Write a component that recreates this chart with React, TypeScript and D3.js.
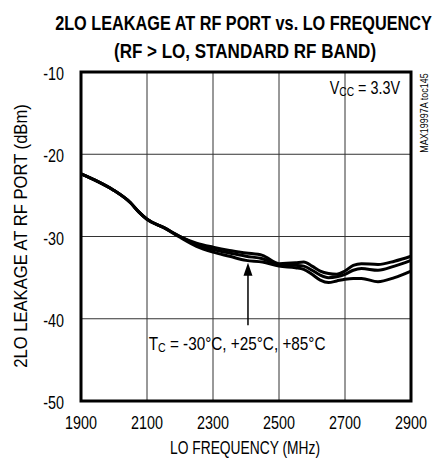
import React, { useRef, useEffect } from "react";
import * as d3 from "d3";

// LO frequency (MHz)
const freqs = [
  1900, 1950, 2000, 2050, 2075, 2100, 2150, 2200, 2250, 2300, 2350, 2400, 2450,
  2500, 2550, 2575, 2600, 2625, 2650, 2675, 2700, 2725, 2750, 2800, 2850, 2900,
];

// 2LO leakage (dBm) for the three temperatures
const leakA = [
  -22.4, -23.3, -24.4, -25.9, -27.0, -27.9, -28.9, -30.0, -30.8, -31.3, -31.7,
  -32.0, -32.3, -33.3, -33.2, -33.1, -33.6, -34.2, -34.5, -34.6, -34.2, -33.5,
  -33.3, -33.4, -33.0, -32.4,
];
const leakB = [
  -22.4, -23.3, -24.4, -25.9, -27.0, -27.9, -28.9, -30.0, -31.0, -31.6, -32.0,
  -32.4, -32.7, -33.4, -33.5, -33.6, -34.1, -34.7, -35.0, -34.9, -34.6, -34.1,
  -33.9, -34.1, -33.6, -32.9,
];
const leakC = [
  -22.4, -23.3, -24.4, -25.9, -27.0, -27.9, -28.9, -30.1, -31.2, -31.9, -32.4,
  -32.9, -33.1, -33.6, -33.8, -34.0, -34.6, -35.3, -35.6, -35.4, -35.2, -35.1,
  -35.1, -35.5, -35.0, -34.2,
];

const xTicks = [1900, 2100, 2300, 2500, 2700, 2900];
const yTicks = [-10, -20, -30, -40, -50];

const FONT = "'Liberation Sans', Arial, sans-serif";
const NARROW = 0.82;

type Sel = d3.Selection<any, unknown, null, undefined>;

// text squeezed horizontally to imitate the condensed face of the original
function label(
  parent: Sel,
  x: number,
  y: number,
  str: string,
  opts: { size: number; anchor?: string; bold?: boolean; rotate?: number; sx?: number }
) {
  const g = parent.append("g");
  const t = g
    .append("text")
    .attr("font-family", FONT)
    .attr("font-size", opts.size)
    .attr("font-weight", opts.bold ? "bold" : "normal")
    .attr("text-anchor", opts.anchor || "start")
    .text(str);
  const place = (sx: number) =>
    g.attr("transform", `translate(${x},${y}) rotate(${opts.rotate || 0}) scale(${sx},1)`);
  place(opts.sx || NARROW);
  return { g, t, place };
}

const App: React.FC = () => {
  const svgRef = useRef<SVGSVGElement | null>(null);

  useEffect(() => {
    const svg = d3.select(svgRef.current) as Sel;
    svg.selectAll("*").remove();

    const left = 81, right = 411, top = 72, bottom = 401;
    const x = d3.scaleLinear().domain([1900, 2900]).range([left, right]);
    const y = d3.scaleLinear().domain([-50, -10]).range([bottom, top]);

    const fit = (l: ReturnType<typeof label>, w: number) => {
      const len = (l.t.node() as SVGTextElement).getBBox().width;
      if (len > 0) l.place(w / len);
    };

    // Title
    fit(label(svg, 243.5, 30, "2LO LEAKAGE AT RF PORT vs. LO FREQUENCY", { size: 21, bold: true, anchor: "middle" }), 377);
    fit(label(svg, 245, 58, "(RF > LO, STANDARD RF BAND)", { size: 21, bold: true, anchor: "middle" }), 262);

    // Grid
    svg.append("g")
      .selectAll("line")
      .data(xTicks.slice(1, -1))
      .enter()
      .append("line")
      .attr("x1", (d) => x(d)).attr("x2", (d) => x(d))
      .attr("y1", top).attr("y2", bottom)
      .attr("stroke", "#333").attr("stroke-width", 1);
    svg.append("g")
      .selectAll("line")
      .data(yTicks.slice(1, -1))
      .enter()
      .append("line")
      .attr("y1", (d) => y(d)).attr("y2", (d) => y(d))
      .attr("x1", left).attr("x2", right)
      .attr("stroke", "#333").attr("stroke-width", 1);

    // Curves
    const line = d3
      .line<number>()
      .x((_, i) => x(freqs[i]))
      .y((d) => y(d))
      .curve(d3.curveMonotoneX);
    [leakA, leakB, leakC].forEach((s) => {
      svg.append("path")
        .attr("d", line(s) as string)
        .attr("fill", "none")
        .attr("stroke", "#000")
        .attr("stroke-width", 3)
        .attr("stroke-linejoin", "round");
    });

    // Frame
    svg.append("rect")
      .attr("x", left).attr("y", top)
      .attr("width", right - left).attr("height", bottom - top)
      .attr("fill", "none").attr("stroke", "#000").attr("stroke-width", 3);

    // Tick labels
    xTicks.forEach((d) => label(svg, x(d), bottom + 28, String(d), { size: 17.5, anchor: "middle" }));
    yTicks.forEach((d) => label(svg, left - 17, y(d) + 8, String(d), { size: 17.5, anchor: "end" }));

    // Axis titles
    fit(label(svg, 245, 454, "LO FREQUENCY (MHz)", { size: 17.5, anchor: "middle" }), 150);
    label(svg, 27, 236, "2LO LEAKAGE AT RF PORT (dBm)", { size: 17.5, anchor: "middle", rotate: -90, sx: 0.95 });

    // VCC note
    const vcc = label(svg, 400, y(-12.7), "", { size: 17.5, anchor: "end" });
    vcc.t.append("tspan").text("V");
    vcc.t.append("tspan").attr("font-size", 12.5).attr("dy", 2).text("CC");
    vcc.t.append("tspan").attr("dy", -2).text(" = 3.3V");

    // Part code
    fit(label(svg, 428, 113, "MAX19997A toc145", { size: 11, anchor: "middle", rotate: -90 }), 80);

    // Arrow and temperature label
    const ax = x(2406), tipY = y(-33.2), endY = y(-40.8);
    svg.append("line")
      .attr("x1", ax).attr("x2", ax).attr("y1", tipY + 8).attr("y2", endY)
      .attr("stroke", "#000").attr("stroke-width", 1.5);
    svg.append("path")
      .attr("d", `M${ax},${tipY} L${ax - 4.5},${tipY + 13} L${ax + 4.5},${tipY + 13} Z`)
      .attr("fill", "#000");
    const tl = label(svg, x(2105), y(-43.8), "", { size: 18, sx: 0.85 });
    tl.t.append("tspan").text("T");
    tl.t.append("tspan").attr("font-size", 12.5).attr("dy", 2).text("C");
    tl.t.append("tspan").attr("dy", -2).text(" = -30°C, +25°C, +85°C");
  }, []);

  return (
    <svg
      ref={svgRef}
      width={435}
      height={460}
      style={{ position: "absolute", left: 0, top: 0, background: "#fff" }}
    />
  );
};

export default App;
